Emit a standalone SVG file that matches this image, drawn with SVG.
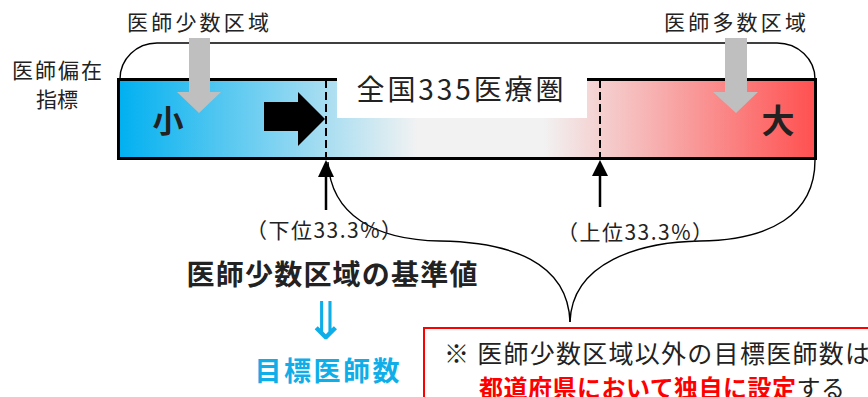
<svg xmlns="http://www.w3.org/2000/svg" width="868" height="397" viewBox="0 0 868 397">
<defs>
<linearGradient id="barGrad" x1="118" y1="0" x2="815" y2="0" gradientUnits="userSpaceOnUse">
<stop offset="0" stop-color="#00B0F0"/>
<stop offset="0.43" stop-color="#F2F2F2"/>
<stop offset="0.61" stop-color="#F2F2F2"/>
<stop offset="1" stop-color="#FF5050"/>
</linearGradient>
<style>
.t{font-family:"Noto Sans CJK JP","Noto Sans",sans-serif;fill:#222}
.b{font-weight:bold}
.brace{fill:none;stroke:#000;stroke-width:1.4}
.gray{fill:#BFBFBF}
.dash{stroke:#000;stroke-width:2;stroke-dasharray:8 4}
.up{stroke:#000;stroke-width:2.5}
.blue{fill:#0FAEE8}
.red{fill:#FF0000}
</style>
</defs>
<rect width="868" height="397" fill="#fff"/>

<g id="top-brace">
<path class="brace" d="M120,79 A37,36 0 0 1 157,43 L777,43 A38,36 0 0 1 815,79"/>
</g>

<g id="bar">
<rect x="118.5" y="79.5" width="697" height="79" fill="url(#barGrad)" stroke="#000" stroke-width="3"/>
<rect x="337" y="76" width="250" height="42" fill="#fff"/>
<text class="t" x="460" y="100" font-size="28" text-anchor="middle" textLength="207" lengthAdjust="spacing">全国335医療圏</text>
<line class="dash" x1="326" y1="80" x2="326" y2="158"/>
<line class="dash" x1="600" y1="80" x2="600" y2="158"/>
<text class="t b" x="168" y="132" font-size="31" text-anchor="middle" fill="#000">小</text>
<text class="t b" x="778" y="133" font-size="33" text-anchor="middle" fill="#000">大</text>
<path d="M264,102 H298 V92 L325,119 L298,146 V131 H264 Z" fill="#000"/>
</g>

<g id="low-region">
<text class="t" x="127" y="30" font-size="21" textLength="142" lengthAdjust="spacing">医師少数区域</text>
<path class="gray" d="M189,38 H210 V92 H221 L199,113 L177,92 H189 Z"/>
</g>

<g id="high-region">
<text class="t" x="664" y="30" font-size="21" textLength="142" lengthAdjust="spacing">医師多数区域</text>
<path class="gray" d="M725,38 H747 V92 H758 L736,113 L713,92 H725 Z"/>
</g>

<g id="axis-label">
<text class="t" x="57" y="78" font-size="21" text-anchor="middle" textLength="90" lengthAdjust="spacing">医師偏在</text>
<text class="t" x="57" y="107" font-size="21" text-anchor="middle">指標</text>
</g>

<g id="connectors">
<path d="M326,160 L334,177 H318 Z" fill="#000"/>
<line class="up" x1="326" y1="176" x2="326" y2="210"/>
<path d="M600,160 L608,176 H592 Z" fill="#000"/>
<line class="up" x1="600" y1="175" x2="600" y2="207"/>
<path class="brace" d="M328,162 C331,215 375,240 440,241 C510,242 568,262 570,322"/>
<path class="brace" d="M815,160 C815,215 770,240 700,241 C640,242 572,262 570,322"/>
</g>

<g id="lower-threshold">
<text class="t" x="324" y="238" font-size="21" text-anchor="middle" textLength="156" lengthAdjust="spacing">（下位33.3%）</text>
</g>

<g id="upper-threshold">
<text class="t" x="635" y="240" font-size="21" text-anchor="middle" textLength="156" lengthAdjust="spacing">（上位33.3%）</text>
</g>

<g id="standard">
<text class="t b" x="332" y="285" font-size="28" text-anchor="middle" textLength="291" lengthAdjust="spacing" fill="#111">医師少数区域の基準値</text>
<text class="t blue" x="326" y="339" font-size="52" text-anchor="middle" font-family="'DejaVu Sans',sans-serif">⇓</text>
<text class="t b blue" x="327" y="381" font-size="27" text-anchor="middle" textLength="145" lengthAdjust="spacing">目標医師数</text>
</g>

<g id="note">
<rect x="424" y="328" width="460" height="100" fill="#fff" stroke="#FF0000" stroke-width="2"/>
<text class="t" x="444" y="363" font-size="25" textLength="426" lengthAdjust="spacing">※ 医師少数区域以外の目標医師数は</text>
<text class="t" x="479" y="397" font-size="24" textLength="366" lengthAdjust="spacing"><tspan class="b red">都道府県において独自に設定</tspan><tspan>する</tspan></text>
</g>
</svg>
